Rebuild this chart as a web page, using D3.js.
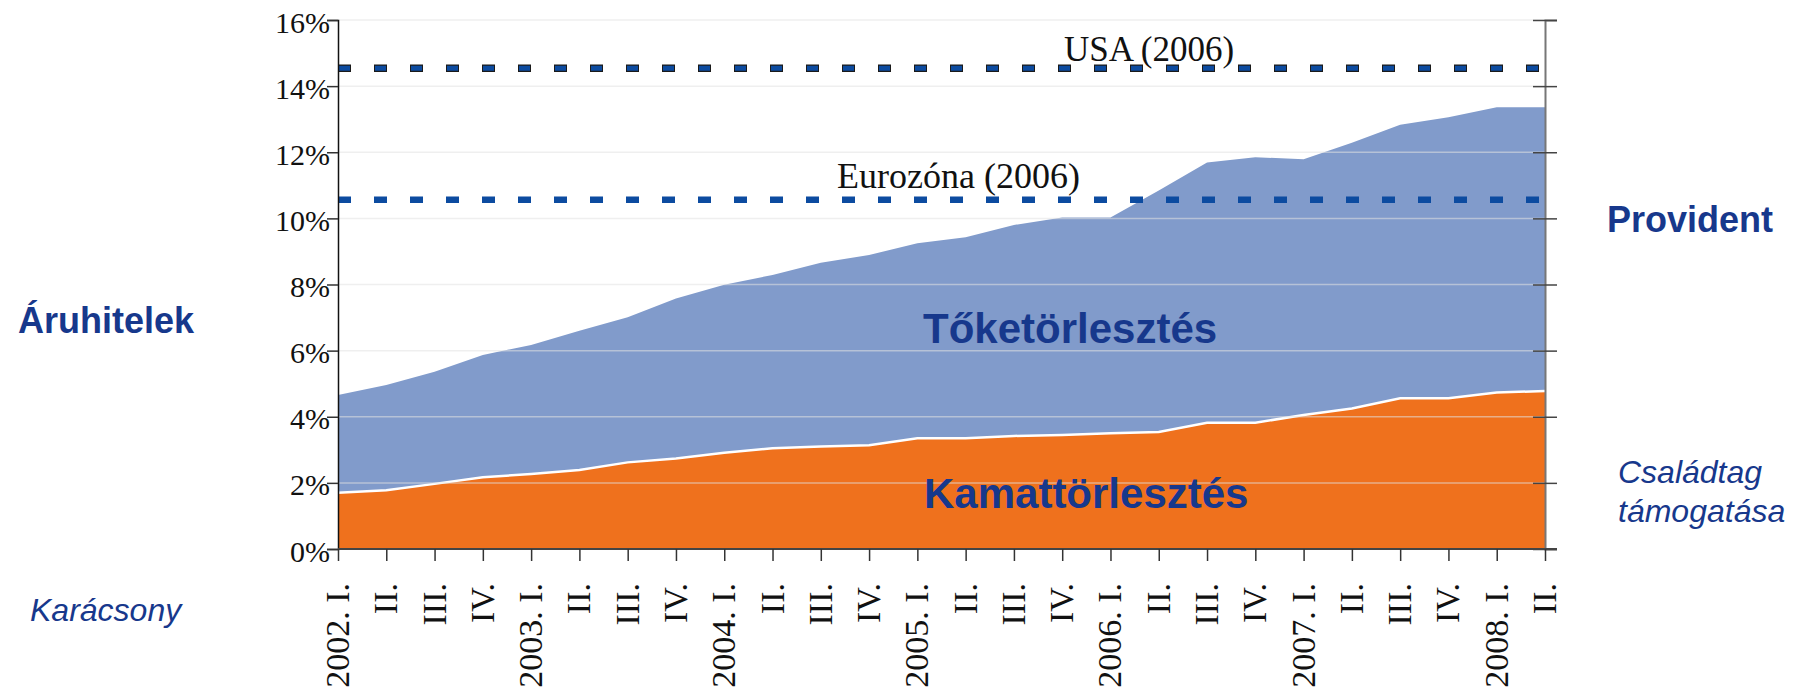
<!DOCTYPE html>
<html>
<head>
<meta charset="utf-8">
<script src="https://cdn.jsdelivr.net/npm/d3@7/dist/d3.min.js"></script>
<style>
  html, body { margin: 0; padding: 0; background: #fff; }
  svg { display: block; }
</style>
</head>
<body>
<div id="chart"></div>
<script>
// Áruhitelek törlesztési terhe: kamat + tőke, negyedévente, a GDP %-ában

const categories = [
  "2002. I.", "II.", "III.", "IV.",
  "2003. I.", "II.", "III.", "IV.",
  "2004. I.", "II.", "III.", "IV.",
  "2005. I.", "II.", "III.", "IV.",
  "2006. I.", "II.", "III.", "IV.",
  "2007. I.", "II.", "III.", "IV.",
  "2008. I.", "II."
];

// Kamattörlesztés (narancs sáv teteje)
const kamat = [
  1.70, 1.78, 1.97, 2.17, 2.27, 2.39, 2.62, 2.74, 2.91,
  3.05, 3.10, 3.14, 3.35, 3.35, 3.42, 3.45, 3.50, 3.54,
  3.82, 3.82, 4.05, 4.25, 4.56, 4.56, 4.73, 4.78
];

// Kamat + tőketörlesztés együtt (kék sáv teteje)
const osszes = [
  4.66, 4.96, 5.36, 5.87, 6.17, 6.60, 7.01, 7.58, 7.99,
  8.29, 8.66, 8.89, 9.25, 9.43, 9.80, 10.03, 10.03, 10.84,
  11.69, 11.85, 11.79, 12.29, 12.83, 13.06, 13.36, 13.36
];

const yTicks = [0, 2, 4, 6, 8, 10, 12, 14, 16];

const refLabels = ["USA (2006)", "Eurozóna (2006)"];
const refValues = [14.54, 10.56];

const W = 1798, H = 692;
const SERIF = "Garamond, 'Liberation Serif', 'Times New Roman', serif";
const SANS  = "Arial, 'Liberation Sans', Helvetica, sans-serif";
const NAVY  = "#17388c";
const ORANGE = "#ef711d";
const AREA_BLUE = "#819bcb";
const DASH_BLUE = "#0c4ba0";

// quarter labels repeat ("II." etc.), so the band is keyed by index
const idx = d3.range(categories.length);
const x = d3.scalePoint().domain(idx).range([338, 1545]);
const y = d3.scaleLinear().domain([0, 16]).range([549, 20]);

const rows = idx.map(i => ({ i, kamat: kamat[i], total: osszes[i] }));

const svg = d3.select("#chart").append("svg")
  .attr("width", W)
  .attr("height", H)
  .style("background", "#fff");

// ── Areas ────────────────────────────────────────────────────────────────

svg.append("path")
  .datum(rows)
  .attr("fill", AREA_BLUE)
  .attr("d", d3.area()
    .x(d => x(d.i))
    .y0(d => y(d.kamat))
    .y1(d => y(d.total)));

svg.append("path")
  .datum(rows)
  .attr("fill", ORANGE)
  .attr("d", d3.area()
    .x(d => x(d.i))
    .y0(y(0))
    .y1(d => y(d.kamat)));

svg.append("path")
  .datum(rows)
  .attr("fill", "none")
  .attr("stroke", "#fff")
  .attr("stroke-width", 2.5)
  .attr("d", d3.line()
    .x(d => x(d.i))
    .y(d => y(d.kamat)));

// ── Gridlines (drawn over the areas, light) ──────────────────────────────

svg.append("g")
  .selectAll("line")
  .data(yTicks.filter(v => v > 0))
  .join("line")
    .attr("x1", x.range()[0]).attr("x2", x.range()[1])
    .attr("y1", d => y(d)).attr("y2", d => y(d))
    .attr("stroke", "#e2e2e2")
    .attr("stroke-opacity", 0.55)
    .attr("stroke-width", 1.5);

// ── Benchmark dashed lines ───────────────────────────────────────────────

refValues.forEach((v, i) => {
  const yy = y(v);
  if (i === 0) {
    // USA line has a thin dark outline round each dash
    svg.append("line")
      .attr("x1", x.range()[0]).attr("x2", x.range()[1])
      .attr("y1", yy).attr("y2", yy)
      .attr("stroke", "#1a1a1a")
      .attr("stroke-width", 7.5)
      .attr("stroke-dasharray", "13 23");
    svg.append("line")
      .attr("x1", x.range()[0] + 1).attr("x2", x.range()[1])
      .attr("y1", yy).attr("y2", yy)
      .attr("stroke", DASH_BLUE)
      .attr("stroke-width", 5)
      .attr("stroke-dasharray", "11 25");
  } else {
    svg.append("line")
      .attr("x1", x.range()[0]).attr("x2", x.range()[1])
      .attr("y1", yy).attr("y2", yy)
      .attr("stroke", DASH_BLUE)
      .attr("stroke-width", 6.5)
      .attr("stroke-dasharray", "13 23");
  }
});

const refX = [1064, 837];
const refBaseline = [61, 188];
const refSize = [35, 36];
svg.append("g")
  .selectAll("text")
  .data(refLabels)
  .join("text")
    .attr("x", (d, i) => refX[i])
    .attr("y", (d, i) => refBaseline[i])
    .style("font-family", SERIF)
    .style("font-size", (d, i) => refSize[i] + "px")
    .style("fill", "#111")
    .text(d => d);

// ── Axes ─────────────────────────────────────────────────────────────────

const yAxis = svg.append("g")
  .attr("transform", `translate(${x.range()[0]},0)`)
  .call(d3.axisLeft(y).tickValues(yTicks).tickSize(11).tickFormat(d => d + "%"));
yAxis.select(".domain").attr("stroke", "#111").attr("stroke-width", 1.5);
yAxis.selectAll(".tick line").attr("stroke", "#333").attr("stroke-width", 1.5);
yAxis.selectAll(".tick text")
  .attr("x", -8)
  .attr("dy", null)
  .attr("y", 12)
  .style("font-family", SERIF)
  .style("font-size", "30px")
  .style("fill", "#111");

const yRight = svg.append("g")
  .attr("transform", `translate(${x.range()[1]},0)`)
  .call(d3.axisRight(y).tickValues(yTicks).tickSize(12).tickFormat(""));
yRight.select(".domain").attr("stroke", "#777").attr("stroke-width", 2);
yRight.selectAll(".tick line")
  .attr("x1", -12)
  .attr("stroke", "#444").attr("stroke-width", 1.5);

const xAxis = svg.append("g")
  .attr("transform", `translate(0,${y(0)})`)
  .call(d3.axisBottom(x).tickSize(12).tickSizeOuter(0).tickFormat(""));
xAxis.select(".domain")
  .attr("d", `M${x.range()[0]},0H${x.range()[1] + 12}`)
  .attr("stroke", "#444").attr("stroke-width", 2);
xAxis.selectAll(".tick line").attr("stroke", "#333").attr("stroke-width", 1.5);

svg.append("g")
  .selectAll("text")
  .data(idx)
  .join("text")
    .attr("transform", i => `translate(${x(i) + 11},583) rotate(-90)`)
    .attr("text-anchor", "end")
    .style("font-family", SERIF)
    .style("font-size", "34px")
    .style("fill", "#111")
    .text(i => categories[i]);

// ── Series labels inside the areas ───────────────────────────────────────

svg.append("text")
  .attr("x", 923).attr("y", 343)
  .style("font-family", SANS).style("font-weight", "bold")
  .style("font-size", "42px").style("fill", NAVY)
  .text("Tőketörlesztés");

svg.append("text")
  .attr("x", 924).attr("y", 508)
  .style("font-family", SANS).style("font-weight", "bold")
  .style("font-size", "42px").style("fill", NAVY)
  .text("Kamattörlesztés");

// ── Side annotations ─────────────────────────────────────────────────────

svg.append("text")
  .attr("x", 18).attr("y", 333)
  .style("font-family", SANS).style("font-weight", "bold")
  .style("font-size", "36px").style("fill", NAVY)
  .text("Áruhitelek");

svg.append("text")
  .attr("x", 1607).attr("y", 232)
  .style("font-family", SANS).style("font-weight", "bold")
  .style("font-size", "36px").style("fill", NAVY)
  .text("Provident");

svg.append("text")
  .attr("x", 30).attr("y", 621)
  .style("font-family", SANS).style("font-style", "italic")
  .style("font-size", "32px").style("fill", NAVY)
  .text("Karácsony");

const famLines = ["Családtag", "támogatása"];
svg.append("text")
  .style("font-family", SANS).style("font-style", "italic")
  .style("font-size", "32px").style("fill", NAVY)
  .selectAll("tspan")
  .data(famLines)
  .join("tspan")
    .attr("x", 1618)
    .attr("y", (d, i) => 483 + i * 39)
    .text(d => d);
</script>
</body>
</html>
